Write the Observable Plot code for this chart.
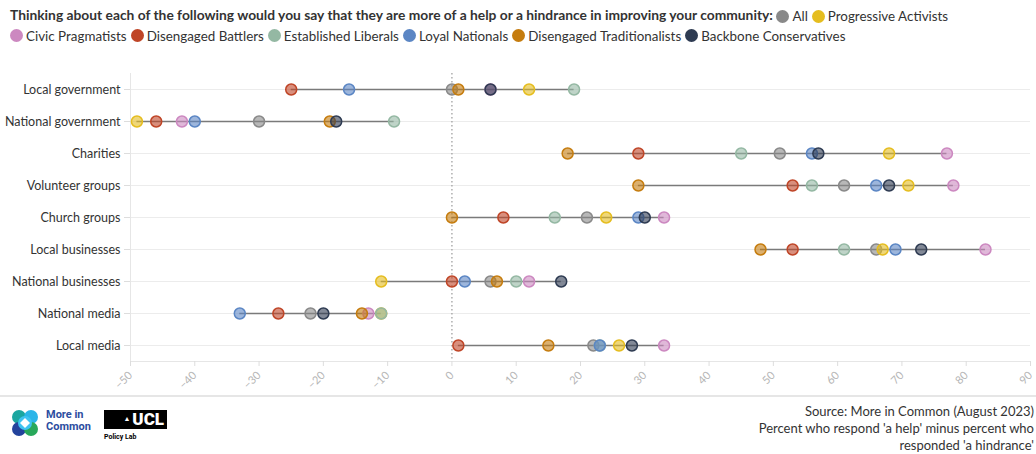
<!DOCTYPE html>
<html><head><meta charset="utf-8">
<script src="https://cdn.jsdelivr.net/npm/d3@7"></script>
<script src="https://cdn.jsdelivr.net/npm/@observablehq/plot@0.6"></script>
<style>
body{margin:0;width:1036px;height:454px;overflow:hidden;background:#fff;font-family:Lato,sans-serif;color:#333;position:relative}
#head{position:absolute;left:10px;top:6px;font-size:14px;line-height:18px;white-space:nowrap}
#head b{font-weight:700;font-size:13.8px}
.li{display:inline-flex;align-items:center;margin-right:4px;vertical-align:middle;font-size:13.4px}
.sw{width:13px;height:13px;border-radius:50%;display:inline-block;margin-right:3px}
#chart{position:absolute;left:0;top:45px}
#sep{position:absolute;left:0;top:395px;width:1036px;height:2px;background:#e6e6e6}
#src{position:absolute;right:2px;top:403px;text-align:right;font-size:13px;line-height:17px;color:#333;white-space:nowrap}
#mic{position:absolute;left:46px;top:409px;font-size:11px;line-height:12px;font-weight:700;color:#2c4da0;font-family:Roboto,sans-serif}
#ucl{position:absolute;left:104px;top:410px;width:63px;height:19px;background:#000;color:#fff;font-family:Roboto,sans-serif;font-weight:900;font-size:17px;line-height:19px;text-align:right;padding-right:3px;box-sizing:border-box}
#ucl small{font-size:7px;vertical-align:top;margin-right:2px}
#pl{position:absolute;left:104px;top:433px;font-size:7px;font-weight:700;color:#000;font-family:Roboto,sans-serif}
svg text{font-family:Lato,sans-serif}
</style></head><body>
<div id="head"></div>
<div id="chart"></div>
<div id="sep"></div>
<svg style="position:absolute;left:11px;top:409px" width="28" height="28" viewBox="0 0 28 28">
<circle cx="8" cy="8" r="7" fill="#1aa6a0"/><circle cx="20" cy="8" r="7" fill="#2bb5e8"/>
<circle cx="8" cy="20" r="7" fill="#23439c"/><circle cx="20" cy="20" r="7" fill="#28a85a"/>
<circle cx="14" cy="14" r="7" fill="#3ec3f0"/><path d="M14 9 L19 14 L14 19 L9 14Z" fill="#fff"/>
</svg>
<div id="mic">More in<br>Common</div>
<div id="ucl"><small>▲</small>UCL</div>
<div id="pl">Policy Lab</div>
<div id="src">Source: More in Common (August 2023)<br>Percent who respond 'a help' minus percent who<br>responded 'a hindrance'</div>
<script>
const categories = ["Local government","National government","Charities","Volunteer groups","Church groups","Local businesses","National businesses","National media","Local media"];
const groups = ["All","Progressive Activists","Civic Pragmatists","Disengaged Battlers","Established Liberals","Loyal Nationals","Disengaged Traditionalists","Backbone Conservatives"];
const colors = ["#898989","#e5bd1f","#cc88c0","#bf4527","#94b8a3","#5b86c4","#c57c0e","#2e3b52"];
const allValues = [0, -30, 51, 61, 21, 66, 6, -22, 22];
const progressiveActivists = [12, -49, 68, 71, 24, 67, -11, -11, 26];
const civicPragmatists = [6, -42, 77, 78, 33, 83, 12, -13, 33];
const disengagedBattlers = [-25, -46, 29, 53, 8, 53, 0, -27, 1];
const establishedLiberals = [19, -9, 45, 56, 16, 61, 10, -11, 23];
const loyalNationals = [-16, -40, 56, 66, 29, 69, 2, -33, 23];
const disengagedTraditionalists = [1, -19, 18, 29, 0, 48, 7, -14, 15];
const backboneConservatives = [6, -18, 57, 68, 30, 73, 17, -20, 28];
const xTicks = [-50,-40,-30,-20,-10,0,10,20,30,40,50,60,70,80,90];

const series = [allValues, progressiveActivists, civicPragmatists, disengagedBattlers, establishedLiberals, loyalNationals, disengagedTraditionalists, backboneConservatives];
const rows = groups.flatMap((g, gi) => categories.map((c, ci) => ({group: g, category: c, value: series[gi][ci]})));
const ranges = categories.map(c => {
  const v = rows.filter(r => r.category === c).map(r => r.value);
  return {category: c, min: d3.min(v), max: d3.max(v)};
});

// header + legend
const head = document.getElementById("head");
const item = (g, i) => `<span class="li"><span class="sw" style="background:${colors[i]}"></span>${g}</span>`;
head.innerHTML = `<b>Thinking about each of the following would you say that they are more of a help or a hindrance in improving your community:</b> ` +
  groups.slice(0, 2).map((g, i) => item(g, i)).join("") + "<br>" +
  groups.slice(2).map((g, i) => item(g, i + 2)).join("");

const chart = Plot.plot({
  width: 1036, height: 350,
  marginLeft: 130, marginRight: 6, marginTop: 28, marginBottom: 34,
  x: {domain: [-50, 90]},
  y: {domain: categories, type: "point", padding: 0.5},
  color: {domain: groups, range: colors},
  marks: [
    Plot.ruleY(categories, {stroke: "#ececec", strokeWidth: 1}),
    Plot.frame({anchor: "left", stroke: "#e6e6e6"}),
    Plot.frame({anchor: "bottom", stroke: "#e6e6e6"}),
    Plot.axisX({ticks: xTicks, tickRotate: -45, tickSize: 5, stroke: "#dddddd", fill: "#b5b5b5", fontSize: 11, tickPadding: 7, label: null}),
    Plot.axisY({tickSize: 6, stroke: "#dddddd", fill: "#333", fontSize: 12.5, tickPadding: 4, label: null}),
    Plot.ruleX([0], {stroke: "#999", strokeDasharray: "1.5,2.5", strokeWidth: 1.2}),
    Plot.ruleY(ranges, {y: "category", x1: "min", x2: "max", stroke: "#7a7a7a", strokeWidth: 1.6}),
    Plot.dot(rows, {x: "value", y: "category", fill: "group", stroke: "group", r: 5.5, fillOpacity: 0.6, strokeWidth: 1.5})
  ]
});
document.getElementById("chart").appendChild(chart);
</script>
</body></html>
